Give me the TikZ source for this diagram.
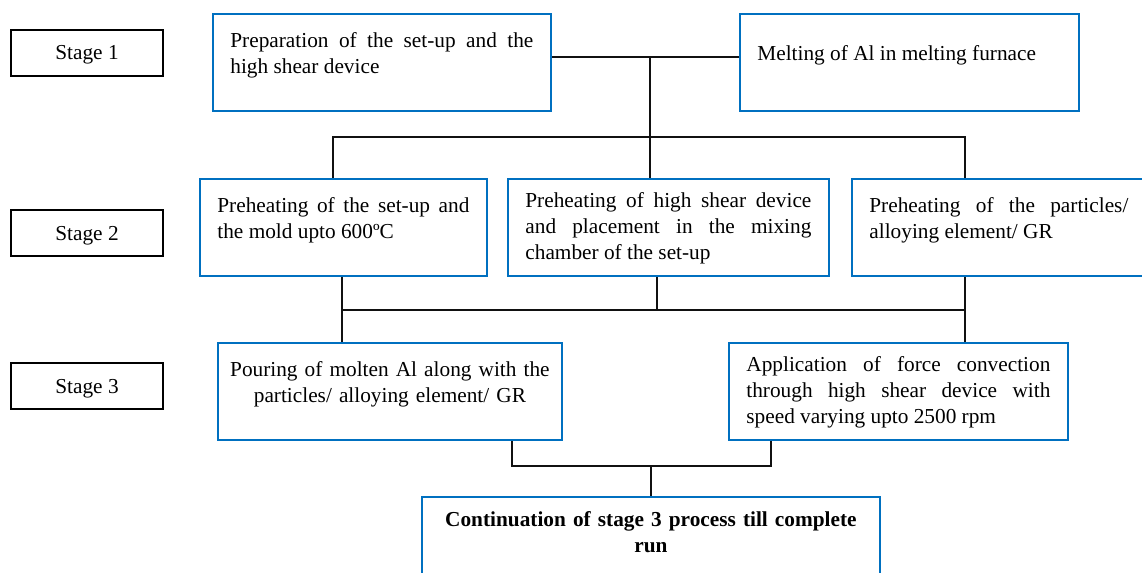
\documentclass[tikz,border=0pt]{standalone}
\usepackage{fontspec}
\setmainfont{Liberation Serif}
\usepackage{tikz}
\usetikzlibrary{positioning,calc}
\usepackage{xcolor}
\definecolor{boxblue}{HTML}{0070C0}
\definecolor{inkline}{HTML}{111111}
\hyphenpenalty=10000
\exhyphenpenalty=10000
\tolerance=9999

\begin{document}
\begin{tikzpicture}[
  x=0.5pt, y=-0.5pt,
  font=\fontsize{10.65pt}{13pt}\selectfont,
  stagebox/.style={
    draw=black,
    line width=1pt,
    minimum width=76pt,
    minimum height=23pt,
    inner sep=0pt,
    text height=8pt,
    text depth=1pt,
    align=center
  },
  stepcard/.style={
    draw=boxblue,
    line width=1.4pt,
    anchor=north west,
    inner xsep=8.75pt,
    inner ysep=0pt,
    align=justify
  },
  twoline/.style={text height=17pt, text depth=31.5pt},
  threeline/.style={text height=14.25pt, text depth=34.25pt},
  oneline/.style={text height=23.25pt, text depth=25.25pt},
  link/.style={
    draw=inkline,
    line width=1.1pt
  }
]
  \useasboundingbox (0,0) rectangle (1142,573);

  % ---------------- stage labels ----------------
  \node[stagebox] (st1) at (87,53) {Stage 1};
  \node[stagebox] (st2) at (87,233) {Stage 2};
  \node[stagebox] (st3) at (87,386) {Stage 3};

  % ---------------- stage 1 ----------------
  \node[stepcard, twoline, text width=151.5pt] (prep) at (211.5,12.5) {
    Preparation of the set-up and the\linebreak high shear device};
  \node[stepcard, oneline, text width=152pt] (melt) at (738.5,12.5) {
    Melting of Al in melting furnace};

  % ---------------- stage 2 ----------------
  \node[stepcard, twoline, text width=126pt] (preA) at (198.5,177.5) {
    Preheating of the set-up and\linebreak the mold upto 600ºC};
  \node[stepcard, threeline, text width=143pt] (preB) at (506.5,177.5) {
    Preheating of high shear device\linebreak and placement in the mixing\linebreak chamber of the set-up};
  \node[stepcard, twoline, text width=129.5pt] (preC) at (850.5,177.5) {
    Preheating of the particles/\linebreak alloying element/ GR};

  % ---------------- stage 3 ----------------
  \node[stepcard, twoline, inner xsep=4pt, text width=164pt, align=center] (pour) at (216.5,341.5) {
    Pouring of molten Al along with the\\ particles/ alloying element/ GR};
  \node[stepcard, threeline, text width=152pt] (app) at (727.5,341.5) {
    Application of force convection\linebreak through high shear device with\linebreak speed varying upto 2500 rpm};

  % ---------------- final ----------------
  \node[stepcard, text height=14.75pt, text depth=40pt, text width=211.5pt, align=center,
        font=\fontsize{10.65pt}{13pt}\selectfont\bfseries] (final) at (420.5,495.5) {
    Continuation of stage 3 process till complete\\ run};

  % ---------------- connectors ----------------
  \coordinate (hub) at (650,57);
  \coordinate (busL) at (333,137);
  \coordinate (busR) at (965,137);
  \draw[link] (prep.east |- hub) -- (melt.west |- hub);
  \draw[link] (hub) -- (hub |- preB.north);
  \draw[link] (busL |- preA.north) -- (busL) -- (busR) -- (busR |- preC.north);

  \coordinate (midL) at (342,310);
  \coordinate (midB) at (657,310);
  \coordinate (midR) at (965,310);
  \draw[link] (midL |- preA.south) -- (midL |- pour.north);
  \draw[link] (midR |- preC.south) -- (midR |- app.north);
  \draw[link] (midL) -- (midR);
  \draw[link] (midB |- preB.south) -- (midB);

  \coordinate (lowL) at (512,466);
  \coordinate (lowR) at (771,466);
  \draw[link] (lowL |- pour.south) -- (lowL) -- (lowR) -- (lowR |- app.south);
  \draw[link] (final.north |- lowL) -- (final.north);

\end{tikzpicture}
\end{document}
